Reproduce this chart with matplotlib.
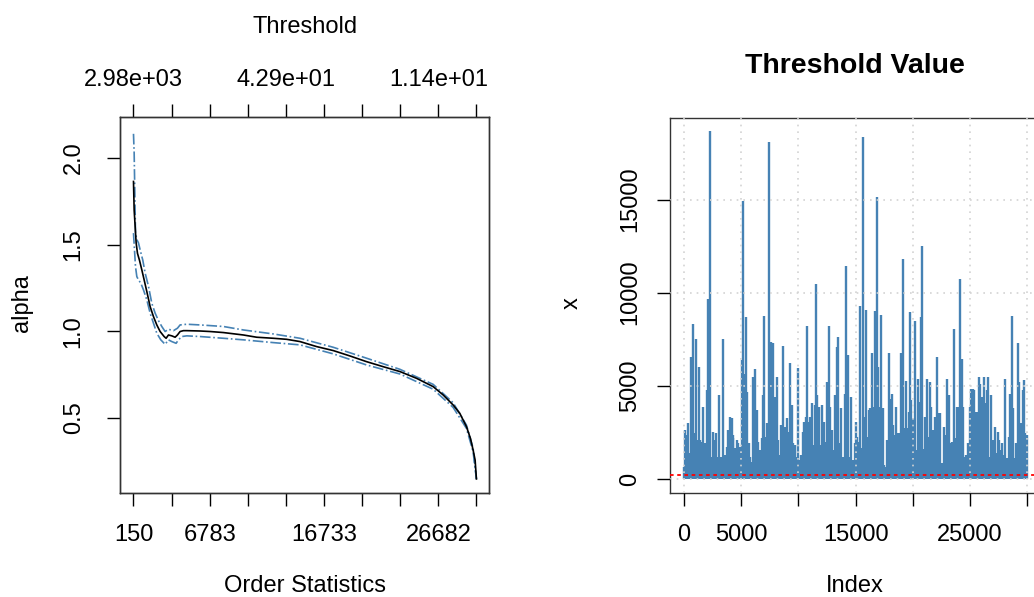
import numpy as np
import matplotlib
matplotlib.use("Agg")
from matplotlib import pyplot as plt

plt.rcParams['font.family'] = ['Liberation Sans', 'DejaVu Sans']

# Hill plot: order statistic k vs alpha estimate
hill_k = [150, 208, 295, 382, 498, 672, 875, 1077, 1309, 1599, 1889, 2179, 2468,
          2816, 2990, 3193, 3483, 3773, 3976, 4207, 4497, 4787, 5946, 6815, 7975,
          9713, 10873, 12322, 13481, 14640, 16089, 17538, 18987, 20436, 21885,
          23334, 24783, 26232, 27101, 27971, 28550, 29130, 29478, 29710, 29884, 29998]
hill_alpha = [1.865, 1.70, 1.605, 1.51, 1.45, 1.41, 1.355, 1.297, 1.23, 1.143, 1.085,
              1.037, 0.999, 0.970, 0.960, 0.979, 0.974, 0.966, 0.979, 0.999, 1.004,
              1.004, 1.002, 0.999, 0.993, 0.979, 0.966, 0.960, 0.954, 0.941, 0.912,
              0.889, 0.858, 0.825, 0.796, 0.768, 0.729, 0.681, 0.633, 0.575, 0.527,
              0.450, 0.382, 0.315, 0.257, 0.148]

upper_k = [150, 208, 266, 324, 440, 585, 730, 962, 1165, 1454, 1744, 2034, 2324,
           2613, 2903, 3193, 3628, 3976, 4207, 4787, 5946, 7975, 9713, 12322, 14640,
           17538, 20436, 23334, 26232, 27971, 29130, 29710, 29998]
upper_alpha = [2.14, 2.03, 1.80, 1.567, 1.53, 1.51, 1.47, 1.41, 1.336, 1.26, 1.162,
               1.105, 1.062, 1.028, 0.999, 1.012, 1.004, 1.018, 1.037, 1.041, 1.037,
               1.028, 1.008, 0.985, 0.960, 0.908, 0.845, 0.781, 0.694, 0.588, 0.459,
               0.325, 0.148]

lower_k = [150, 237, 324, 440, 585, 788, 1020, 1309, 1599, 1889, 2179, 2526, 2903,
           3193, 3483, 3860, 4063, 4353, 4787, 5946, 7975, 9713, 12322, 14640, 17538,
           20436, 23334, 26232, 27971, 29130, 29710, 29998]
lower_alpha = [1.567, 1.47, 1.374, 1.316, 1.297, 1.278, 1.239, 1.182, 1.105, 1.047,
               0.989, 0.951, 0.925, 0.951, 0.941, 0.931, 0.951, 0.970, 0.974, 0.970,
               0.960, 0.951, 0.935, 0.922, 0.870, 0.806, 0.754, 0.666, 0.561, 0.440,
               0.305, 0.148]

k_ticks = [150, 3466, 6783, 10099, 13416, 16733, 20049, 23366, 26682, 29998]
k_tick_labels = ['150', '', '6783', '', '', '16733', '', '', '26682', '']
thr_tick_labels = ['2.98e+03', '', '', '', '4.29e+01', '', '', '', '1.14e+01', '']

# series plot (per-column heights)
idx = [0, 87, 233, 379, 525, 612, 758, 875, 1020, 1108, 1312, 1399, 1545, 1691, 1808,
       1983, 2128, 2274, 2362, 2507, 2624, 2770, 2916, 3061, 3207, 3440, 3557, 3732,
       3878, 4023, 4169, 4257, 4315, 4461, 4606, 4752, 4898, 5044, 5160, 5277, 5423,
       5539, 5656, 5773, 5948, 6064, 6210, 6356, 6502, 6647, 6793, 6939, 7026, 7143,
       7289, 7405, 7522, 7639, 7755, 7872, 7988, 8163, 8251, 8397, 8513, 8630, 8747,
       8863, 8980, 9126, 9271, 9417, 9563, 9709, 9854, 9942, 10058, 10204, 10379,
       10496, 10642, 10787, 10904, 11021, 11166, 11312, 11429, 11545, 11662, 11779,
       11895, 12070, 12245, 12391, 12537, 12653, 12770, 12916, 13061, 13236, 13353,
       13470, 13586, 13732, 13878, 14053, 14198, 14315, 14461, 14607, 14752, 14898,
       14986, 15102, 15248, 15394, 15540, 15656, 15773, 15919, 16035, 16152, 16268,
       16414, 16560, 16706, 16852, 16968, 17114, 17231, 17347, 17493, 17639, 17755,
       17901, 18018, 18134, 18280, 18426, 18543, 18688, 18834, 18951, 19097, 19213,
       19359, 19476, 19621, 19709, 19855, 20000, 20146, 20292, 20409, 20554, 20671,
       20788, 20904, 21050, 21196, 21312, 21458, 21575, 21720, 21808, 21954, 22099,
       22245, 22391, 22537, 22682, 22828, 22974, 23120, 23265, 23411, 23586, 23732,
       23849, 23995, 24140, 24257, 24403, 24519, 24665, 24811, 24957, 25102, 25219,
       25365, 25481, 25598, 25744, 25889, 26035, 26181, 26298, 26443, 26589, 26735,
       26852, 26998, 27143, 27289, 27406, 27552, 27697, 27814, 27930, 28076, 28222,
       28368, 28484, 28630, 28776, 28892, 29038, 29184, 29300, 29446, 29592, 29709,
       29825, 29971]
x_vals = [660, 2625, 2357, 2982, 1375, 6553, 8339, 2446, 7500, 2089, 6018, 2089, 2000,
          3875, 1911, 4768, 9679, 18661, 1196, 2536, 2089, 2446, 1196, 4500, 1196,
          7500, 1286, 1732, 2625, 3339, 3250, 2357, 2179, 1643, 2089, 1911, 1732, 6375,
          14946, 5661, 8696, 4679, 1911, 1196, 929, 5482, 5929, 3696, 2000, 1554, 2179,
          4500, 8732, 2268, 2982, 18107, 2982, 7357, 7304, 839, 4411, 5482, 2089, 1286,
          2893, 7143, 2714, 2804, 3250, 2536, 6232, 3964, 1911, 1821, 1196, 5982, 1018,
          1286, 2536, 3071, 3339, 8196, 3071, 3339, 4054, 1821, 3964, 10482, 4500, 3875,
          1821, 3964, 3071, 2000, 5214, 8196, 3875, 2625, 1554, 4500, 7089, 7625, 1911,
          3786, 1196, 4589, 11429, 6679, 1196, 4411, 1018, 1911, 3071, 2268, 2000, 9268,
          1643, 18339, 3339, 9054, 2268, 3696, 3786, 6786, 3875, 9018, 15161, 6018,
          3875, 8786, 3786, 750, 661, 2089, 6786, 4321, 4589, 2893, 2357, 3875, 2446,
          2446, 6768, 11786, 2714, 5268, 2714, 3607, 8964, 4232, 3250, 8482, 1554,
          5393, 4143, 8696, 12500, 1589, 3339, 5393, 2232, 5214, 3875, 2625, 2268, 3339,
          6554, 3518, 3518, 839, 2804, 2357, 5393, 4500, 1911, 2000, 8071, 2179, 3875,
          3875, 10714, 6464, 3875, 1196, 1286, 1911, 3875, 4857, 4857, 4768, 3607, 3607,
          5482, 5125, 4411, 5482, 4054, 4768, 5482, 1196, 4500, 2089, 2804, 1375, 2536,
          2089, 1554, 1911, 1286, 5393, 1107, 2268, 4589, 8732, 3786, 1107, 1911, 7304,
          5214, 2982, 4768, 5339, 2446, 2357]
threshold = 220

fig = plt.figure(figsize=(10.34, 5.97), dpi=100)
blue = '#4682B4'
fs = 17

# ---- left: Hill plot
ax1 = fig.add_axes([0.1161, 0.1742, 0.3569, 0.6298])
ax1.plot(upper_k, upper_alpha, color=blue, lw=1.2, ls='-.')
ax1.plot(lower_k, lower_alpha, color=blue, lw=1.2, ls='-.')
ax1.plot(hill_k, hill_alpha, color='black', lw=1.2)
ax1.set_xlim(-1020, 31100)
ax1.set_ylim(0.067, 2.237)
ax1.set_xticks(k_ticks)
ax1.set_xticklabels(k_tick_labels)
ax1.set_yticks([0.5, 1.0, 1.5, 2.0])
ax1.set_yticklabels(['0.5', '1.0', '1.5', '2.0'], rotation=90, va='center')
ax1.tick_params(axis='x', length=9.5, width=1, labelsize=fs, pad=13)
ax1.tick_params(axis='y', length=9.5, width=1, labelsize=fs, pad=16)
ax_top = ax1.twiny()
ax_top.set_xlim(ax1.get_xlim())
ax_top.set_xticks(k_ticks)
ax_top.set_xticklabels(thr_tick_labels)
ax_top.tick_params(axis='x', length=9.5, width=1, labelsize=fs, pad=9.5)

# ---- right: series with threshold
ax2 = fig.add_axes([0.648, 0.1742, 0.3588, 0.628])
ax2.vlines(idx, 0, x_vals, color=blue, lw=1.7, zorder=1)
ax2.axhline(threshold, color='red', lw=1.3, ls=(0, (2, 2)), zorder=4)
ax2.set_xlim(-1224, 31200)
ax2.set_ylim(-750, 19370)
ax2.set_xticks([0, 5000, 10000, 15000, 20000, 25000, 30000])
ax2.set_xticklabels(['0', '5000', '', '15000', '', '25000', ''])
ax2.set_yticks([0, 5000, 10000, 15000])
ax2.set_yticklabels(['0', '5000', '10000', '15000'], rotation=90, va='center')
ax2.tick_params(axis='x', length=9.5, width=1, labelsize=fs, pad=13)
ax2.tick_params(axis='y', length=9.5, width=1, labelsize=fs, pad=11)
ax2.set_axisbelow(False)
ax2.grid(True, color='#D3D3D3', ls=(0, (1, 3)), lw=1.2)

for a in (ax1, ax2, ax_top):
    for s in a.spines.values():
        s.set_linewidth(1.0)
        s.set_color('#333333')

fig.text(305 / 1034, 1 - 27 / 597, 'Threshold', ha='center', va='center', fontsize=fs)
fig.text(305 / 1034, 1 - 586 / 597, 'Order Statistics', ha='center', va='center', fontsize=fs)
fig.text(22 / 1034, 1 - 303 / 597, 'alpha', ha='center', va='center', fontsize=fs, rotation=90)
fig.text(855 / 1034, 1 - 66 / 597, 'Threshold Value', ha='center', va='center',
         fontsize=20.5, fontweight='bold')
fig.text(855 / 1034, 1 - 586 / 597, 'Index', ha='center', va='center', fontsize=fs)
fig.text(572 / 1034, 1 - 303 / 597, 'x', ha='center', va='center', fontsize=fs, rotation=90)

fig.savefig('out.png', dpi=100)
